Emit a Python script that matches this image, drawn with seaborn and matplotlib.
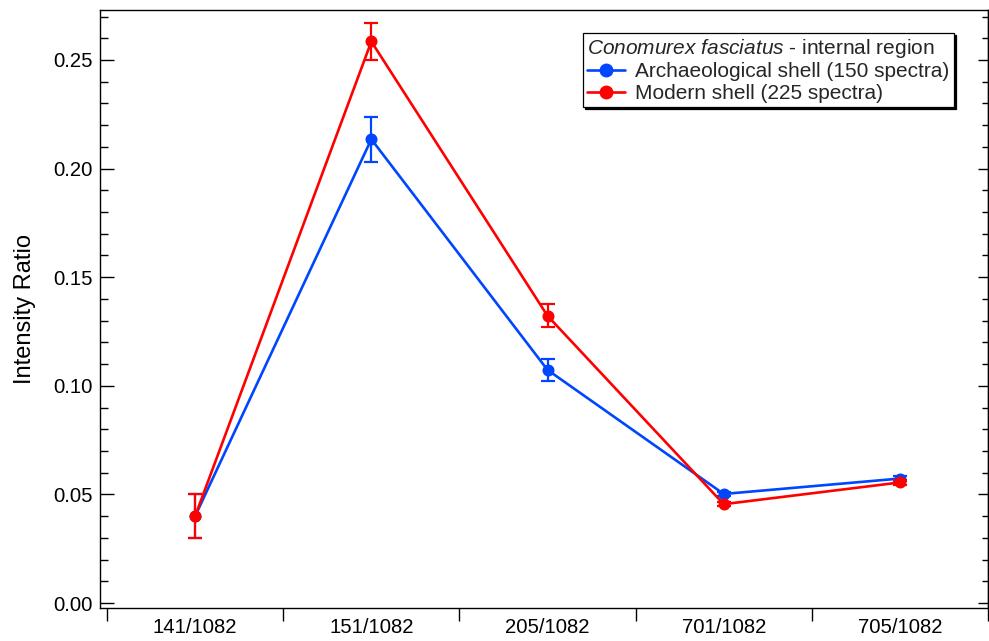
import numpy as np
import pandas as pd
import matplotlib
matplotlib.use("Agg")
import matplotlib.pyplot as plt
from matplotlib.ticker import MultipleLocator
from matplotlib.lines import Line2D
import seaborn as sns

# ---- data ----
categories = ["141/1082", "151/1082", "205/1082", "701/1082", "705/1082"]
series_names = ["Archaeological shell (150 spectra)", "Modern shell (225 spectra)"]
archaeo_values = [0.040, 0.2135, 0.1073, 0.0502, 0.0573]
archaeo_errors = [0.010, 0.0103, 0.0051, 0.0010, 0.0012]
modern_values = [0.040, 0.2585, 0.1322, 0.0455, 0.0555]
modern_errors = [0.010, 0.0083, 0.0053, 0.0010, 0.0010]
colors = ["#0046FF", "#FF0000"]

sns.set_style("ticks")
plt.rcParams["font.family"] = ["Liberation Sans", "DejaVu Sans"]
plt.rcParams["mathtext.fontset"] = "custom"
plt.rcParams["mathtext.rm"] = "Liberation Sans"
plt.rcParams["mathtext.it"] = "Liberation Sans:italic"

df = pd.DataFrame({
    "ratio": categories * 2,
    "value": archaeo_values + modern_values,
    "sample": [series_names[0]] * len(categories) + [series_names[1]] * len(categories),
})

fig = plt.figure(figsize=(9.89, 6.41), dpi=100)
ax = fig.add_axes([100 / 989, 1 - 608 / 641, 888 / 989, 598 / 641])

sns.pointplot(data=df, x="ratio", y="value", hue="sample", order=categories,
              hue_order=series_names, palette=colors, markers="o", linestyles="-",
              errorbar=None, dodge=False, legend=False, ax=ax,
              markersize=7.2, linewidth=1.9)

xpos = np.arange(len(categories))
for vals, errs, c, z in [(archaeo_values, archaeo_errors, colors[0], 2.5),
                         (modern_values, modern_errors, colors[1], 3.5)]:
    ax.errorbar(xpos, vals, yerr=errs, fmt="none", ecolor=c,
                elinewidth=1.6, capsize=4.8, capthick=1.6, zorder=z)

for ln in ax.lines:
    hexc = matplotlib.colors.to_hex(ln.get_color()).lower()
    if hexc == colors[1].lower():
        ln.set_zorder(4)
    elif hexc == colors[0].lower() and ln.get_marker() == "o":
        ln.set_zorder(3)

ax.set_xlim(-0.54, 4.5)
ax.set_ylim(-0.0023, 0.273)

# x axis: boundary ticks (major, no labels), labels at centres (minor, no tick)
ax.set_xticks(np.arange(-0.5, len(categories), 1.0))
ax.set_xticklabels([])
ax.set_xticks(xpos, labels=categories, minor=True)
ax.tick_params(axis="x", which="major", direction="out", length=9.5, width=1.0,
               top=False, color="black")
ax.tick_params(axis="x", which="minor", length=0, pad=7, labelsize=14.6,
               labelcolor="black")

# y axis
ax.yaxis.set_major_locator(MultipleLocator(0.05))
ax.yaxis.set_minor_locator(MultipleLocator(0.01))
ax.yaxis.set_major_formatter(matplotlib.ticker.FormatStrFormatter("%.2f"))
ax.tick_params(axis="y", which="major", direction="in", length=10, width=1.0,
               pad=5, labelsize=14.6, labelcolor="black", color="black",
               left=True, right=False)
ax.tick_params(axis="y", which="minor", direction="in", length=6, width=1.0,
               left=True, right=False, color="black")

sec = ax.secondary_yaxis("right")
sec.yaxis.set_major_locator(MultipleLocator(0.05))
sec.yaxis.set_minor_locator(MultipleLocator(0.01))
sec.tick_params(axis="y", which="major", direction="in", length=7, width=1.0,
                labelright=False, color="black")
sec.tick_params(axis="y", which="minor", direction="in", length=4, width=1.0,
                color="black")
sec.spines["right"].set_linewidth(1.0)

for s in ax.spines.values():
    s.set_visible(True)
    s.set_linewidth(1.0)
    s.set_color("black")

ax.set_xlabel("")
ax.set_ylabel("Intensity Ratio", fontsize=17, color="black", labelpad=13)

handles = [Line2D([], [], color=c, marker="o", lw=1.9, markersize=9) for c in colors]
leg = ax.legend(handles, series_names,
                title=r"$\it{Conomurex\ fasciatus}$ - internal region",
                loc="upper left", bbox_to_anchor=(0.544, 0.962),
                fontsize=15, title_fontsize=15, alignment="left",
                frameon=True, fancybox=False, edgecolor="black",
                shadow={"color": "black", "alpha": 1.0, "ox": 1.4, "oy": -1.4},
                handlelength=1.8, handletextpad=0.5, borderpad=0.2,
                labelspacing=0.12, borderaxespad=0.0)
leg.get_frame().set_linewidth(0.9)
leg.get_frame().set_alpha(1.0)

fig.savefig("out.png", dpi=100)
